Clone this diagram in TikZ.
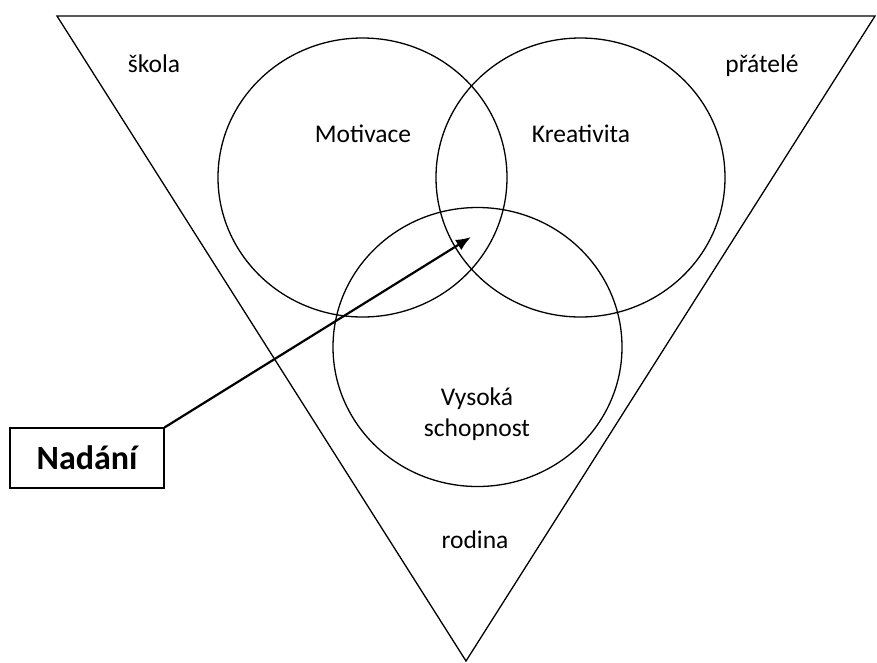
\documentclass[tikz,border=0pt]{standalone}
\usepackage{fontspec}
\setmainfont{Carlito}
\usetikzlibrary{arrows.meta}

\begin{document}
\begin{tikzpicture}[x=1pt,y=-1pt,
        lbl/.style={anchor=base,inner sep=0pt,font=\fontsize{25.5}{31}\selectfont},
        kruh/.style={line width=1.3pt}]
        \useasboundingbox (0,0) rectangle (877,662);
        \coordinate(tl) at (57,16);
        \coordinate(tr) at (875,16);
        \coordinate(bot) at (466,661);
        \draw[line width=1.3pt](tl)--(tr)--(bot)--cycle;
        \draw[kruh](362.5,177.5) ellipse [x radius=144.5, y radius=139.5];
        \draw[kruh](580.5,177.5) ellipse [x radius=144.5, y radius=139.5];
        \draw[kruh](477.5,347) ellipse [x radius=144.5, y radius=139.5];
        \node[lbl](skola) at (154,72) {škola};
        \node[lbl](pratele) at (762,72) {přátelé};
        \node[lbl](motivace) at (363,142) {Motivace};
        \node[lbl](kreativita) at (581,142) {Kreativita};
        \node[lbl,align=center](schopnost) at (477,436) {Vysoká\\schopnost};
        \node[lbl](rodina) at (475,548) {rodina};
        \node[draw,line width=1.2pt,minimum width=154pt,minimum height=60pt,
              font=\fontsize{34}{40}\selectfont\bfseries](nadani) at (87,458) {Nadání};
        \coordinate(tip) at (471,237);
        \draw[line width=2.2pt,-{Latex[length=15pt,width=12pt]}](nadani.north east)--(tip);
        \end{tikzpicture}
\end{document}
